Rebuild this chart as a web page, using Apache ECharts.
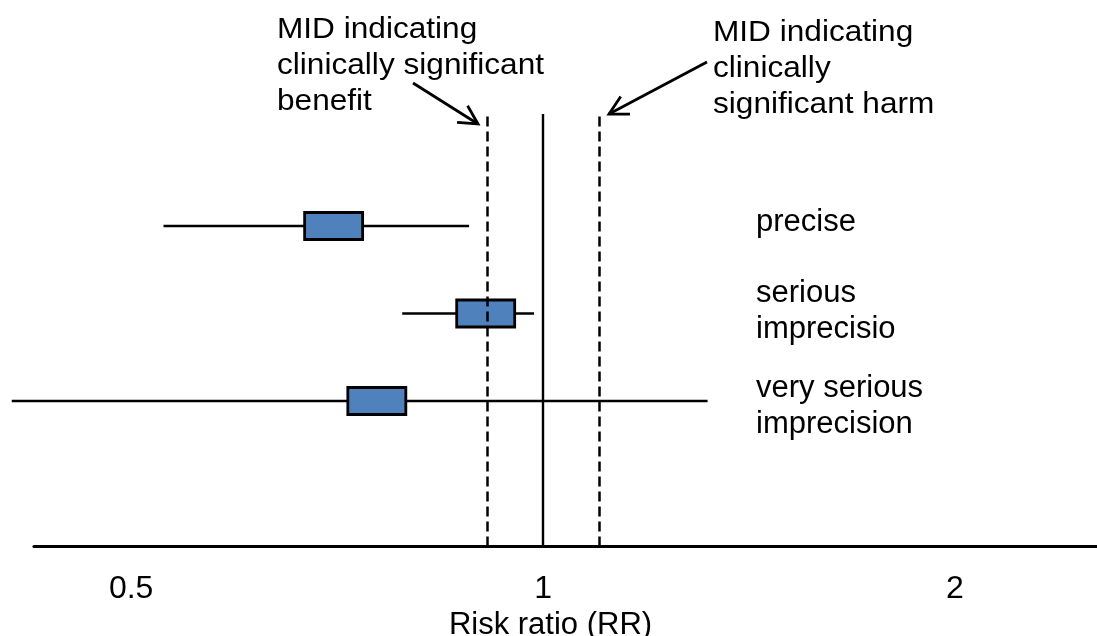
<!DOCTYPE html>
<html><head><meta charset="utf-8">
<script src="https://cdn.jsdelivr.net/npm/echarts@6/dist/echarts.min.js"></script>
<style>html,body{margin:0;padding:0;background:#fff}#c{width:1097px;height:636px}</style>
</head><body><div id="c"></div>
<script>
// ---- data ----
const categories = ['precise', 'serious\nimprecisio', 'very serious\nimprecision'];
const rowPos = [3, 2, 1];
const lowerCI = [0.528, 0.789, 0.409];
const pointRR = [0.703, 0.908, 0.756];
const upperCI = [0.883, 0.985, 1.319];
const midBenefit = 0.91;
const nullRR = 1;
const midHarm = 1.10;
const tickLabels = ['0.5', '1', '2'];
const axisTitle = 'Risk ratio (RR)';
const benefitNote = 'MID indicating\nclinically significant\nbenefit';
const harmNote = 'MID indicating\nclinically\nsignificant harm';

const FONT = '"Liberation Sans", Arial, sans-serif';
const chart = echarts.init(document.getElementById('c'), null, {renderer: 'canvas'});

const rows = rowPos.map((y, i) => [y, lowerCI[i], pointRR[i], upperCI[i]]);
const labelShift = [-4, -2, 5];

function renderItem(params, api) {
  const y = api.value(0);
  const lo = api.coord([api.value(1), y]);
  const pt = api.coord([api.value(2), y]);
  const hi = api.coord([api.value(3), y]);
  const bw = 58, bh = 27;
  return {
    type: 'group',
    children: [
      {type: 'line', shape: {x1: lo[0], y1: lo[1], x2: hi[0], y2: hi[1]},
       style: {stroke: '#000', lineWidth: 2.4}},
      {type: 'rect', shape: {x: pt[0] - bw / 2, y: pt[1] - bh / 2, width: bw, height: bh},
       style: {fill: '#4F81BD', stroke: '#000', lineWidth: 2.8}},
      {type: 'text', x: 756, y: pt[1] + labelShift[params.dataIndex],
       style: {text: categories[params.dataIndex], fill: '#000', fontSize: 31, fontFamily: FONT,
               align: 'left', verticalAlign: 'middle', lineHeight: 36}}
    ]
  };
}

function arrow(x1, y1, x2, y2) {
  const a = Math.atan2(y2 - y1, x2 - x1);
  const L = 21, da = 0.49;
  const p1 = [x2 - L * Math.cos(a - da), y2 - L * Math.sin(a - da)];
  const p2 = [x2 - L * Math.cos(a + da), y2 - L * Math.sin(a + da)];
  return [
    {type: 'line', shape: {x1, y1, x2, y2}, style: {stroke: '#000', lineWidth: 2.8}, z: 20},
    {type: 'polyline', shape: {points: [p1, [x2, y2], p2]}, style: {stroke: '#000', lineWidth: 2.8, fill: null}, z: 20}
  ];
}

const dash = [10, 5];
const option = {
  animation: false,
  backgroundColor: '#fff',
  grid: {left: 34, right: 0, top: 114, bottom: 89.5, containLabel: false, outerBoundsMode: 'none'},
  xAxis: {
    type: 'log', logBase: 2, min: 0.4246, max: 2.54,
    axisLine: {show: true, onZero: false, lineStyle: {color: '#000', width: 3.2}},
    axisTick: {show: false},
    splitLine: {show: false},
    axisLabel: {
      color: '#000', fontSize: 32, fontFamily: FONT, margin: 27,
      showMinLabel: false, showMaxLabel: false,
      formatter: v => { const s = String(+(+v).toPrecision(6)); return tickLabels.includes(s) ? s : ''; }
    },
    name: axisTitle, nameLocation: 'middle', nameGap: 60,
    nameTextStyle: {color: '#000', fontSize: 31, fontFamily: FONT, padding: [0, 30, 0, 0]}
  },
  yAxis: {type: 'value', min: -0.663, max: 4.28, show: false},
  series: [
    {type: 'custom', renderItem, data: rows, clip: false, z: 2,
     encode: {x: [1, 2, 3], y: 0}, silent: true},
    {type: 'line', data: [], z: 5, silent: true,
     markLine: {
       symbol: 'none', silent: true, label: {show: false},
       data: [
         {xAxis: midBenefit, lineStyle: {type: dash, color: '#000', width: 2.5}},
         {xAxis: nullRR, lineStyle: {type: 'solid', color: '#000', width: 2.4}},
         {xAxis: midHarm, lineStyle: {type: dash, color: '#000', width: 2.5}}
       ]
     }}
  ],
  graphic: [
    {type: 'text', x: 277, y: 12, scaleX: 1.09,
     style: {text: benefitNote, fill: '#000', fontSize: 29, fontFamily: FONT, lineHeight: 36, verticalAlign: 'top'}},
    {type: 'text', x: 713, y: 15, scaleX: 1.09,
     style: {text: harmNote, fill: '#000', fontSize: 29, fontFamily: FONT, lineHeight: 36, verticalAlign: 'top'}},
    ...arrow(413, 83, 478, 124),
    ...arrow(707, 62, 609, 114)
  ]
};
chart.setOption(option);
</script></body></html>
